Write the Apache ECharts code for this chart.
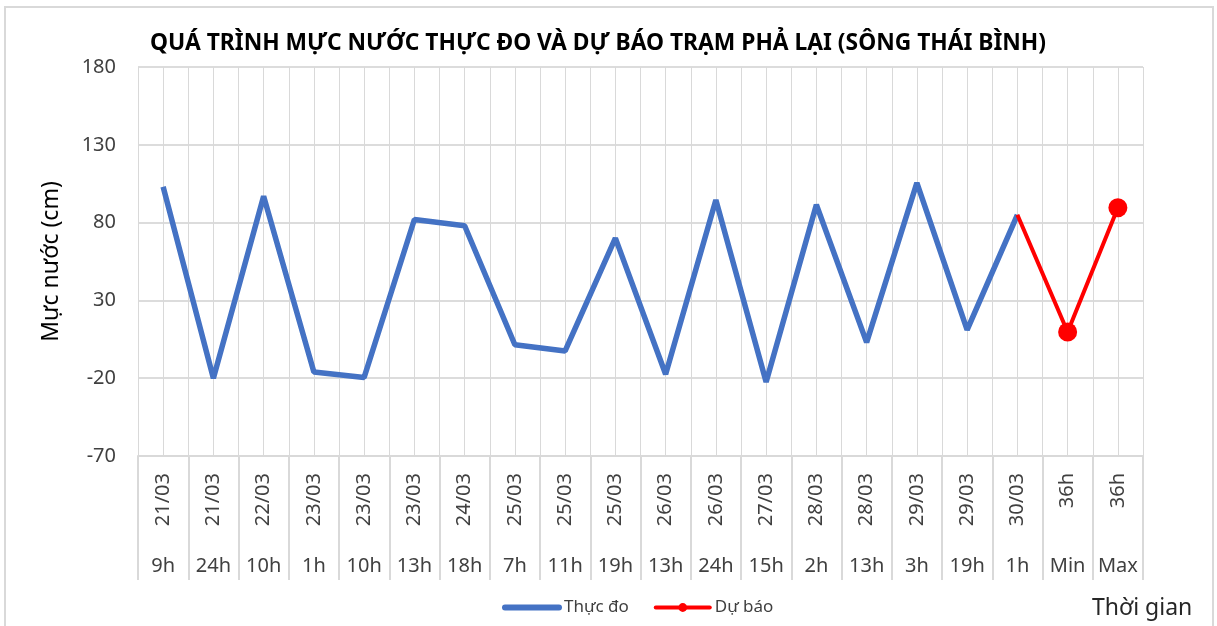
<!DOCTYPE html>
<html>
<head>
<meta charset="utf-8">
<script src="https://cdn.jsdelivr.net/npm/echarts@6/dist/echarts.min.js"></script>
<style>
  html, body { margin: 0; padding: 0; background: #fff; }
  #chart { width: 1217px; height: 626px; }
</style>
</head>
<body>
<div id="chart"></div>
<script>
// category labels: date row (rotated) and hour row
const dates = ['21/03', '21/03', '22/03', '23/03', '23/03', '23/03', '24/03', '25/03', '25/03', '25/03',
  '26/03', '26/03', '27/03', '28/03', '28/03', '29/03', '29/03', '30/03', '36h', '36h']
const hours = ['9h', '24h', '10h', '1h', '10h', '13h', '18h', '7h', '11h', '19h',
  '13h', '24h', '15h', '2h', '13h', '3h', '19h', '1h', 'Min', 'Max']

// water level (cm)
const measured = [103, -20, 97, -16, -19.5, 82, 78, 1.5, -2.5, 70,
  -17.5, 94.5, -22.5, 91.5, 3, 105.5, 11, 85]
const forecast = [9.7, 89.6]

const yTicks = { min: -70, max: 180, interval: 50 }

const font = 'Noto Sans'
const tickColor = '#404040'
const gridColor = '#d9d9d9'

// blue line: measured values, nothing for the forecast slots
const measuredData = measured.concat(forecast.map(() => null))
// red line: starts at the last measured point (no marker there)
const forecastData = measured.map((v, i) => i === measured.length - 1 ? { value: v, symbol: 'none' } : null)
  .concat(forecast)
// half-category helper axis, only used for the vertical grid lines
const halfSlots = dates.flatMap(() => ['', ''])

const chart = echarts.init(document.getElementById('chart'))
chart.setOption({
  backgroundColor: '#fff',
  animation: false,
  textStyle: { fontFamily: font },
  title: {
    text: 'QUÁ TRÌNH MỰC NƯỚC THỰC ĐO VÀ DỰ BÁO TRẠM PHẢ LẠI (SÔNG THÁI BÌNH)',
    left: 593,
    textAlign: 'center',
    top: 27,
    textStyle: { fontFamily: font, fontWeight: 'bold', fontSize: 22.8, color: '#000' }
  },
  graphic: [
    {
      type: 'rect',
      shape: { x: 5, y: 7, width: 1208, height: 640 },
      style: { fill: 'none', stroke: '#d9d9d9', lineWidth: 2 },
      silent: true
    },
    {
      type: 'text',
      left: 1092,
      top: 597,
      style: { text: 'Thời gian', fontFamily: font, fontSize: 23, fill: '#262626' }
    }
  ],
  legend: {
    left: 497,
    top: 594,
    itemWidth: 54,
    itemHeight: 11,
    itemGap: 25,
    textStyle: { fontFamily: font, fontSize: 17, color: '#404040' },
    data: [
      { name: 'Thực đo', itemStyle: { opacity: 0 }, lineStyle: { width: 6, cap: 'round' } },
      { name: 'Dự báo', lineStyle: { width: 4, cap: 'round' } }
    ]
  },
  grid: {
    left: 138,
    right: 74,
    top: 67,
    bottom: 170
  },
  xAxis: [
    {
      type: 'category',
      data: dates,
      boundaryGap: true,
      axisLine: { onZero: false, lineStyle: { color: gridColor, width: 2 } },
      axisTick: { show: true, interval: 0, length: 124, lineStyle: { color: gridColor, width: 2 } },
      axisLabel: {
        interval: 0,
        rotate: 90,
        margin: 17,
        fontFamily: font,
        fontSize: 20,
        color: tickColor
      },
      splitLine: { show: false }
    },
    {
      type: 'category',
      data: hours,
      position: 'bottom',
      boundaryGap: true,
      axisLine: { show: false, onZero: false },
      axisTick: { show: false },
      axisLabel: {
        interval: 0,
        margin: 100,
        fontFamily: font,
        fontSize: 20,
        color: tickColor
      },
      splitLine: { show: false }
    },
    {
      type: 'category',
      data: halfSlots,
      position: 'top',
      boundaryGap: true,
      axisLine: { show: false, onZero: false },
      axisTick: { show: false },
      axisLabel: { show: false },
      splitLine: { show: true, interval: 0, lineStyle: { color: gridColor, width: 1 } }
    }
  ],
  yAxis: {
    type: 'value',
    min: yTicks.min,
    max: yTicks.max,
    interval: yTicks.interval,
    name: 'Mực nước (cm)',
    nameLocation: 'middle',
    nameGap: 75,
    nameRotate: 90,
    nameTextStyle: { fontFamily: font, fontSize: 23, color: '#000' },
    axisLine: { show: false },
    axisTick: { show: false },
    axisLabel: { margin: 22, fontFamily: font, fontSize: 20, color: tickColor },
    splitLine: { lineStyle: { color: '#d0d0d0', width: 1.5 } }
  },
  series: [
    {
      name: 'Thực đo',
      type: 'line',
      data: measuredData,
      symbol: 'none',
      lineStyle: { color: '#4472c4', width: 5.5 },
      itemStyle: { color: '#4472c4' },
      connectNulls: false,
      z: 3
    },
    {
      name: 'Dự báo',
      type: 'line',
      data: forecastData,
      symbol: 'circle',
      symbolSize: 19,
      showAllSymbol: true,
      lineStyle: { color: '#ff0000', width: 4 },
      itemStyle: { color: '#ff0000' },
      z: 4
    }
  ]
})
</script>
</body>
</html>
